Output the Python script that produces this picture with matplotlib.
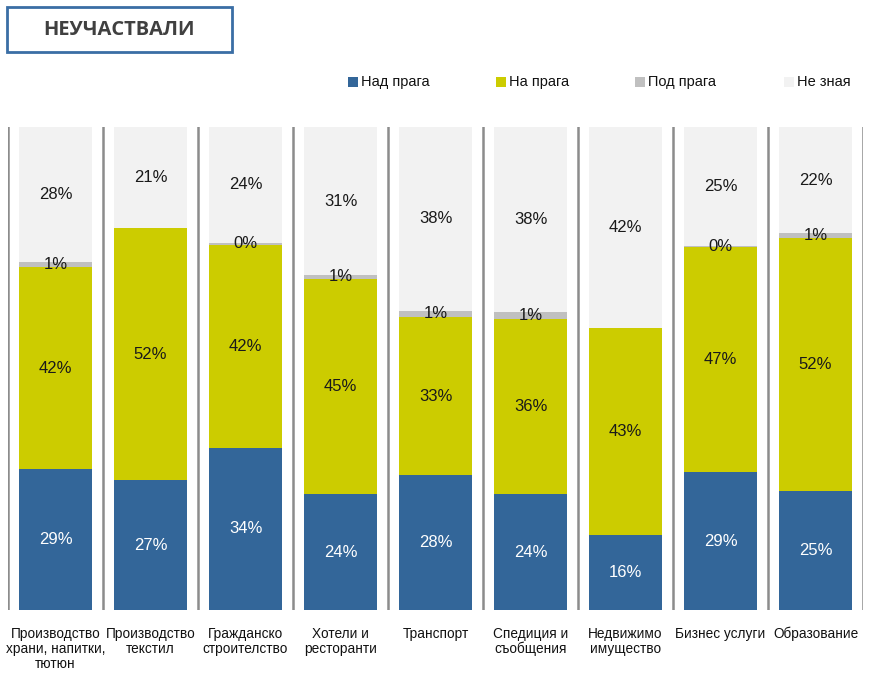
import matplotlib
matplotlib.use("Agg")
import matplotlib.pyplot as plt
from matplotlib.patches import Rectangle
import numpy as np

plt.rcParams['font.family'] = ['Liberation Sans', 'DejaVu Sans']

categories = [
    "Производство\nхрани, напитки,\nтютюн",
    "Производство\nтекстил",
    "Гражданско\nстроителство",
    "Хотели и\nресторанти",
    "Транспорт",
    "Спедиция и\nсъобщения",
    "Недвижимо\nимущество",
    "Бизнес услуги",
    "Образование",
]
series_names = ["Над прага", "На прага", "Под прага", "Не зная"]
nad_praga = [29.2, 26.9, 33.6, 24.0, 27.9, 24.0, 15.6, 28.55, 24.6]
na_praga = [41.8, 52.2, 42.0, 44.6, 32.7, 36.2, 42.8, 46.55, 52.4]
pod_praga = [1.0, 0.0, 0.4, 0.7, 1.4, 1.4, 0.0, 0.35, 1.0]
ne_znaya = [28.0, 20.9, 24.0, 30.7, 38.0, 38.4, 41.6, 24.55, 22.0]

colors = ["#336699", "#CCCC00", "#C0C0C0", "#F2F2F2"]
label_colors = ["white", "#1a1a1a", "#1a1a1a", "#1a1a1a"]

W, H = 872, 673
fig = plt.figure(figsize=(W / 100, H / 100), dpi=100)
ax = fig.add_axes([8 / W, 1 - 610 / H, (863 - 8) / W, (610 - 127) / H])

x = np.arange(len(categories))
series = [nad_praga, na_praga, pod_praga, ne_znaya]
totals = np.sum(np.array(series), axis=0)
bottom = np.zeros(len(categories))
for s, c, lc in zip(series, colors, label_colors):
    vals = np.array(s) / totals * 100
    ax.bar(x, vals, bottom=bottom, width=0.76, color=c, edgecolor='none')
    for xi, v, b, raw in zip(x, vals, bottom, s):
        if raw > 0:
            ax.text(xi, b + v / 2, f"{raw:.0f}%", ha='center', va='center',
                    fontsize=12, color=lc)
    bottom += vals

for xv in np.arange(-0.5, len(categories), 1.0):
    ax.axvline(xv, color="#8c8c8c", lw=1.8)

ax.set_xlim(-0.5, len(categories) - 0.5)
ax.set_ylim(0, 100)
ax.set_xticks(x)
ax.set_xticklabels(categories, fontsize=9.8, color="#111111", linespacing=1.12)
ax.tick_params(axis='x', length=0, pad=12)
ax.set_yticks([])
for sp in ax.spines.values():
    sp.set_visible(False)
for lab in ax.get_xticklabels():
    lab.set_verticalalignment('top')

# title box
fig.patches.append(Rectangle((7 / W, 1 - 52 / H), (232 - 7) / W, (52 - 7) / H,
                             transform=fig.transFigure, facecolor='white',
                             edgecolor='#3A6EA5', lw=2))
fig.text(119 / W, 1 - 30 / H, "НЕУЧАСТВАЛИ", ha='center', va='center',
         fontsize=14.5, fontweight='bold', color='#404040',
         family=['Open Sans', 'DejaVu Sans'])

# legend
leg_x = [348, 496, 635, 784]
for lx, name, c in zip(leg_x, series_names, colors):
    fig.patches.append(Rectangle((lx / W, 1 - 87 / H), 10 / W, 10 / H,
                                 transform=fig.transFigure, facecolor=c,
                                 edgecolor='none'))
    fig.text((lx + 13) / W, 1 - 82 / H, name, ha='left', va='center',
             fontsize=10.5, color='#111111')

fig.savefig("out.png", dpi=100)
